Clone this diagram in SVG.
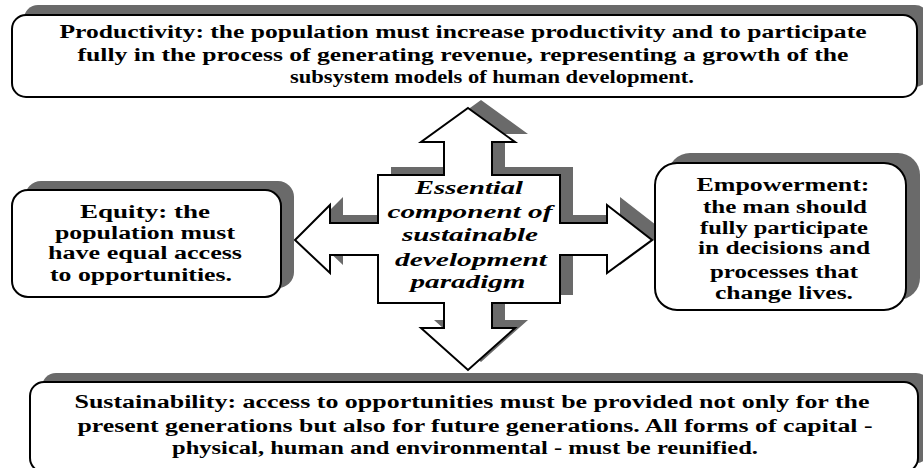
<svg xmlns="http://www.w3.org/2000/svg" width="923" height="468" viewBox="0 0 923 468">
<style>
.sh{fill:#6a6a6a;}
.bx{fill:#fff;stroke:#000;stroke-width:2;}
.t{font-family:"Liberation Serif","Times New Roman",serif;font-weight:bold;font-size:18px;fill:#000;text-anchor:middle;}
.ti{font-style:italic;}
</style>
<rect width="923" height="468" fill="#fff"/>
<g id="connectors">
<polygon class="sh" transform="translate(13,-8)" points="468,108 515,142 492,142 492,175 560,175 560,223 607,223 607,205 652,240 607,273 607,255 560,255 560,303 492,303 492,328 515,328 468,370 421,328 444,328 444,303 378,303 378,255 330,255 330,273 295,240 330,205 330,223 378,223 378,175 444,175 444,142 421,142"/>
<polygon class="bx" points="468,108 515,142 492,142 492,175 560,175 560,223 607,223 607,205 652,240 607,273 607,255 560,255 560,303 492,303 492,328 515,328 468,370 421,328 444,328 444,303 378,303 378,255 330,255 330,273 295,240 330,205 330,223 378,223 378,175 444,175 444,142 421,142"/>
</g>
<g id="center">
<text class="t ti" x="469" y="194" textLength="108" lengthAdjust="spacingAndGlyphs">Essential</text>
<text class="t ti" x="470" y="218" textLength="165" lengthAdjust="spacingAndGlyphs">component of</text>
<text class="t ti" x="470" y="241" textLength="136" lengthAdjust="spacingAndGlyphs">sustainable</text>
<text class="t ti" x="471" y="266" textLength="152" lengthAdjust="spacingAndGlyphs">development</text>
<text class="t ti" x="468" y="288" textLength="115" lengthAdjust="spacingAndGlyphs">paradigm</text>
</g>
<g id="productivity">
<rect class="sh" x="24" y="5" width="905" height="82" rx="14"/>
<rect class="bx" x="12" y="15" width="905" height="82" rx="14"/>
<text class="t" x="463" y="38" textLength="807" lengthAdjust="spacingAndGlyphs">Productivity: the population must increase productivity and to participate</text>
<text class="t" x="463" y="61" textLength="771" lengthAdjust="spacingAndGlyphs">fully in the process of generating revenue, representing a growth of the</text>
<text class="t" x="492" y="83" textLength="404" lengthAdjust="spacingAndGlyphs">subsystem models of human development.</text>
</g>
<g id="equity">
<rect class="sh" x="25" y="181" width="269" height="107" rx="16"/>
<rect class="bx" x="12" y="190" width="269" height="107" rx="16"/>
<text class="t" x="145" y="218" textLength="130" lengthAdjust="spacingAndGlyphs">Equity: the</text>
<text class="t" x="145" y="239" textLength="180" lengthAdjust="spacingAndGlyphs">population must</text>
<text class="t" x="145" y="259" textLength="194" lengthAdjust="spacingAndGlyphs">have equal access</text>
<text class="t" x="141" y="281" textLength="182" lengthAdjust="spacingAndGlyphs">to opportunities.</text>
</g>
<g id="empowerment">
<rect class="sh" x="668" y="153" width="252" height="147" rx="22"/>
<rect class="bx" x="655" y="163" width="251" height="147" rx="22"/>
<text class="t" x="783" y="191" textLength="173" lengthAdjust="spacingAndGlyphs">Empowerment:</text>
<text class="t" x="785" y="213" textLength="164" lengthAdjust="spacingAndGlyphs">the man should</text>
<text class="t" x="784" y="234" textLength="168" lengthAdjust="spacingAndGlyphs">fully participate</text>
<text class="t" x="784" y="254" textLength="172" lengthAdjust="spacingAndGlyphs">in decisions and</text>
<text class="t" x="784" y="278" textLength="148" lengthAdjust="spacingAndGlyphs">processes that</text>
<text class="t" x="784" y="299" textLength="138" lengthAdjust="spacingAndGlyphs">change lives.</text>
</g>
<g id="sustainability">
<rect class="sh" x="42" y="373" width="888" height="90" rx="14"/>
<rect class="bx" x="30" y="382" width="888" height="90" rx="14"/>
<text class="t" x="472" y="408" textLength="795" lengthAdjust="spacingAndGlyphs">Sustainability: access to opportunities must be provided not only for the</text>
<text class="t" x="475" y="432" textLength="795" lengthAdjust="spacingAndGlyphs">present generations but also for future generations. All forms of capital -</text>
<text class="t" x="465" y="454" textLength="586" lengthAdjust="spacingAndGlyphs">physical, human and environmental - must be reunified.</text>
</g>
</svg>
